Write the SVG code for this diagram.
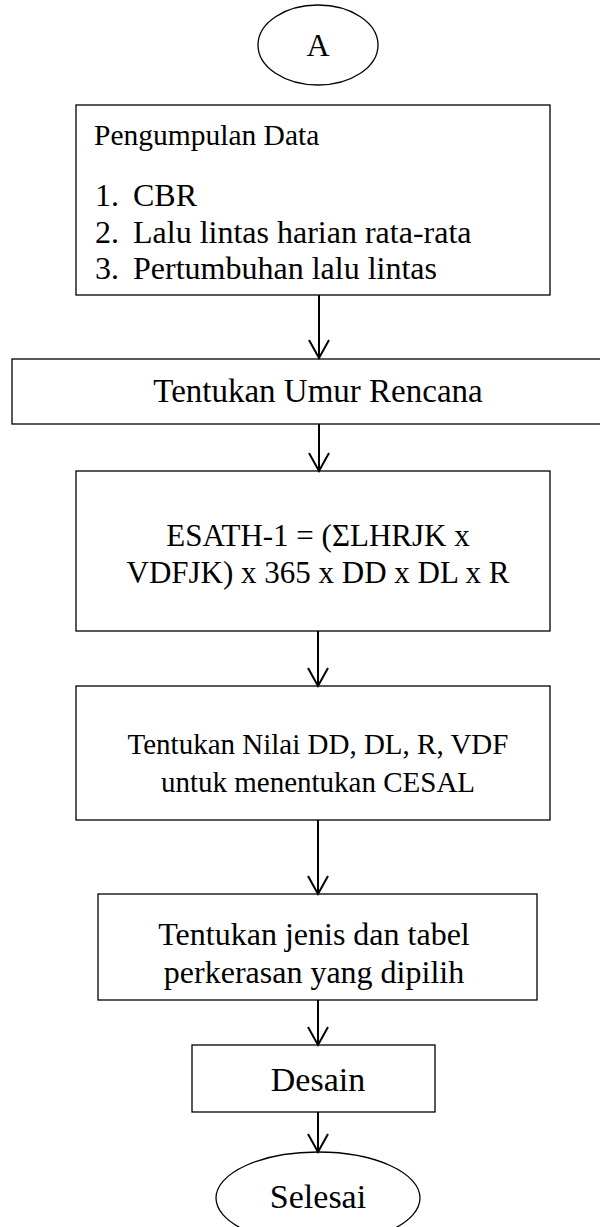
<svg xmlns="http://www.w3.org/2000/svg" width="600" height="1227" viewBox="0 0 600 1227">
<style>
.n{fill:#fff;stroke:#000;stroke-width:1.3}
.t{font-family:"Liberation Serif","Times New Roman",serif;font-size:30px;fill:#000}
.c{text-anchor:middle}
.e{stroke:#000;stroke-width:2;fill:none}
</style>
<rect width="600" height="1227" fill="#fff"/>
<g id="nA"><ellipse class="n" cx="318" cy="45" rx="60" ry="40"/><text class="t c" x="318" y="56" style="font-size:32px">A</text></g>
<g id="n1"><rect class="n" x="76" y="105" width="474" height="190"/>
<text class="t" x="94" y="145" style="font-size:29.5px">Pengumpulan Data</text>
<g style="font-size:32px">
<text class="t" x="95" y="206" style="font-size:32px">1.</text><text class="t" x="133" y="206" style="font-size:32px">CBR</text>
<text class="t" x="95" y="243" style="font-size:32px">2.</text><text class="t" x="133" y="243" style="font-size:32px">Lalu lintas harian rata-rata</text>
<text class="t" x="95" y="279" style="font-size:32px">3.</text><text class="t" x="133" y="279" style="font-size:32px">Pertumbuhan lalu lintas</text></g></g>
<g id="n2"><rect class="n" x="12" y="359" width="600" height="65"/><text class="t c" x="318" y="402" style="font-size:33px">Tentukan Umur Rencana</text></g>
<g id="n3"><rect class="n" x="76" y="471" width="474" height="160"/><text class="t c" x="318" y="546" style="font-size:31px">ESATH-1 = (ΣLHRJK x</text><text class="t c" x="318" y="583" style="font-size:31px">VDFJK) x 365 x DD x DL x R</text></g>
<g id="n4"><rect class="n" x="76" y="686" width="474" height="134"/><text class="t c" x="318" y="754" style="font-size:29px">Tentukan Nilai DD, DL, R, VDF</text><text class="t c" x="318" y="792" style="font-size:29px">untuk menentukan CESAL</text></g>
<g id="n5"><rect class="n" x="98" y="894" width="439" height="106"/><text class="t c" x="314" y="945" style="font-size:32px">Tentukan jenis dan tabel</text><text class="t c" x="314" y="983" style="font-size:32px">perkerasan yang dipilih</text></g>
<g id="n6"><rect class="n" x="192" y="1045" width="243" height="67"/><text class="t c" x="318" y="1091" style="font-size:34px">Desain</text></g>
<g id="n7"><ellipse class="n" cx="318" cy="1198" rx="102" ry="46"/><text class="t c" x="318" y="1208" style="font-size:34px">Selesai</text></g>
<g id="edges">
<path class="e" d="M319 295V358M309 340L319 358L329 340"/>
<path class="e" d="M319 424V471M309 453L319 471L329 453"/>
<path class="e" d="M318 631V686M308 668L318 686L328 668"/>
<path class="e" d="M318 820V894M308 876L318 894L328 876"/>
<path class="e" d="M318 1000V1045M308 1027L318 1045L328 1027"/>
<path class="e" d="M318 1112V1152M308 1134L318 1152L328 1134"/>
</g>
</svg>
